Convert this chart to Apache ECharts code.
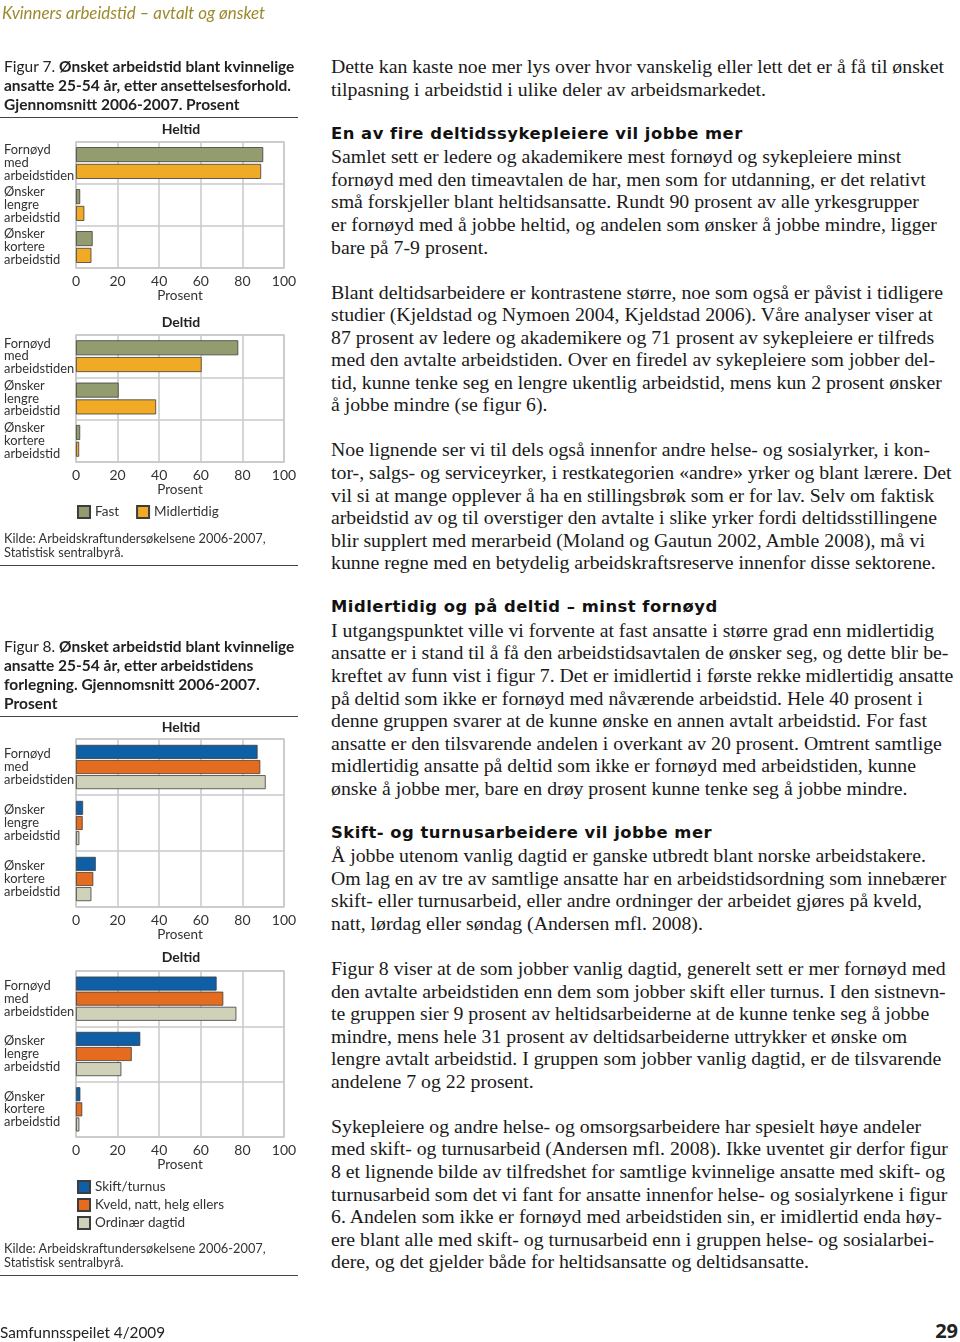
<!DOCTYPE html>
<html><head><meta charset="utf-8">
<script src="https://cdn.jsdelivr.net/npm/echarts/dist/echarts.min.js"></script>
<style>
html,body{margin:0;padding:0;background:#fff;}
#page{position:relative;width:960px;height:1342px;overflow:hidden;background:#fff;}
#chart{position:absolute;left:0;top:0;width:310px;height:1342px;}
.abs{position:absolute;white-space:nowrap;}
#body{position:absolute;left:331px;top:55.2px;font-family:'Liberation Serif',serif;font-size:19.8px;color:#1a1a1a;line-height:22.55px;}
#body div{height:22.55px;white-space:nowrap;}
#body div.h{font-family:'DejaVu Sans',sans-serif;font-weight:700;font-size:16.4px;letter-spacing:0.5px;color:#111;}
.cap{font-family:Lato,sans-serif;font-size:15.5px;font-weight:700;color:#222;line-height:19px;}
.cap span{font-weight:400;}
.src{font-family:Lato,sans-serif;font-size:12.8px;color:#333;line-height:14px;}
.rule{position:absolute;left:0;width:298px;height:0;border-top:1.5px solid #444;}
</style></head>
<body>
<div id="page">
  <div id="chart"></div>
  <div class="abs" style="left:2px;top:2px;font-family:Lato,sans-serif;font-style:italic;font-size:16.9px;line-height:22px;color:#9c8a2e;">Kvinners arbeidstid – avtalt og ønsket</div>

  <div class="abs cap" style="left:4px;top:56.5px;">
    <div><span>Figur 7. </span>Ønsket arbeidstid blant kvinnelige</div>
    <div>ansatte 25-54 år, etter ansettelsesforhold.</div>
    <div>Gjennomsnitt 2006-2007. Prosent</div>
  </div>
  <div class="rule" style="top:117px;"></div>
  <div class="abs src" style="left:4px;top:531px;">
    <div>Kilde: Arbeidskraftundersøkelsene 2006-2007,</div>
    <div>Statistisk sentralbyrå.</div>
  </div>
  <div class="rule" style="top:565px;"></div>

  <div class="abs cap" style="left:4px;top:636.5px;">
    <div><span>Figur 8. </span>Ønsket arbeidstid blant kvinnelige</div>
    <div>ansatte 25-54 år, etter arbeidstidens</div>
    <div>forlegning. Gjennomsnitt 2006-2007.</div>
    <div>Prosent</div>
  </div>
  <div class="rule" style="top:716px;"></div>
  <div class="abs src" style="left:4px;top:1241px;">
    <div>Kilde: Arbeidskraftundersøkelsene 2006-2007,</div>
    <div>Statistisk sentralbyrå.</div>
  </div>
  <div class="rule" style="top:1275px;"></div>

  <div id="body"></div>

  <div class="abs" style="left:0px;top:1321px;font-family:Lato,sans-serif;font-size:15.3px;line-height:22px;color:#222;">Samfunnsspeilet 4/2009</div>
  <div class="abs" style="right:2px;top:1318px;font-family:'Open Sans',sans-serif;font-weight:700;font-size:20px;line-height:26px;color:#222;">29</div>
</div>
<script>
// ---- chart data ----
const categories = ['Fornøyd\nmed\narbeidstiden', 'Ønsker\nlengre\narbeidstid', 'Ønsker\nkortere\narbeidstid'];
const xTicks = [0, 20, 40, 60, 80, 100];
const fig7Names = ['Fast', 'Midlertidig'];
const fig7HeltidFast = [90, 2, 8];
const fig7HeltidMidlertidig = [89, 4, 7.4];
const fig7DeltidFast = [78, 20.5, 2];
const fig7DeltidMidlertidig = [60.4, 38.5, 1.5];
const fig8Names = ['Skift/turnus', 'Kveld, natt, helg ellers', 'Ordinær dagtid'];
const fig8HeltidSkift = [87.3, 3.4, 9.5];
const fig8HeltidKveld = [88.6, 3.2, 8.3];
const fig8HeltidOrdinaer = [91.2, 1.6, 7.4];
const fig8DeltidSkift = [67.6, 30.9, 2.1];
const fig8DeltidKveld = [70.8, 26.8, 3.0];
const fig8DeltidOrdinaer = [77.1, 21.8, 1.6];

// ---- body text ----
const bodyLines = [
'Dette kan kaste noe mer lys over hvor vanskelig eller lett det er å få til ønsket',
'tilpasning i arbeidstid i ulike deler av arbeidsmarkedet.',
'',
'#En av fire deltidssykepleiere vil jobbe mer',
'Samlet sett er ledere og akademikere mest fornøyd og sykepleiere minst',
'fornøyd med den timeavtalen de har, men som for utdanning, er det relativt',
'små forskjeller blant heltidsansatte. Rundt 90 prosent av alle yrkesgrupper',
'er fornøyd med å jobbe heltid, og andelen som ønsker å jobbe mindre, ligger',
'bare på 7-9 prosent.',
'',
'Blant deltidsarbeidere er kontrastene større, noe som også er påvist i tidligere',
'studier (Kjeldstad og Nymoen 2004, Kjeldstad 2006). Våre analyser viser at',
'87 prosent av ledere og akademikere og 71 prosent av sykepleiere er tilfreds',
'med den avtalte arbeidstiden. Over en firedel av sykepleiere som jobber del-',
'tid, kunne tenke seg en lengre ukentlig arbeidstid, mens kun 2 prosent ønsker',
'å jobbe mindre (se figur 6).',
'',
'Noe lignende ser vi til dels også innenfor andre helse- og sosialyrker, i kon-',
'tor-, salgs- og serviceyrker, i restkategorien «andre» yrker og blant lærere. Det',
'vil si at mange opplever å ha en stillingsbrøk som er for lav. Selv om faktisk',
'arbeidstid av og til overstiger den avtalte i slike yrker fordi deltidsstillingene',
'blir supplert med merarbeid (Moland og Gautun 2002, Amble 2008), må vi',
'kunne regne med en betydelig arbeidskraftsreserve innenfor disse sektorene.',
'',
'#Midlertidig og på deltid – minst fornøyd',
'I utgangspunktet ville vi forvente at fast ansatte i større grad enn midlertidig',
'ansatte er i stand til å få den arbeidstidsavtalen de ønsker seg, og dette blir be-',
'kreftet av funn vist i figur 7. Det er imidlertid i første rekke midlertidig ansatte',
'på deltid som ikke er fornøyd med nåværende arbeidstid. Hele 40 prosent i',
'denne gruppen svarer at de kunne ønske en annen avtalt arbeidstid. For fast',
'ansatte er den tilsvarende andelen i overkant av 20 prosent. Omtrent samtlige',
'midlertidig ansatte på deltid som ikke er fornøyd med arbeidstiden, kunne',
'ønske å jobbe mer, bare en drøy prosent kunne tenke seg å jobbe mindre.',
'',
'#Skift- og turnusarbeidere vil jobbe mer',
'Å jobbe utenom vanlig dagtid er ganske utbredt blant norske arbeidstakere.',
'Om lag en av tre av samtlige ansatte har en arbeidstidsordning som innebærer',
'skift- eller turnusarbeid, eller andre ordninger der arbeidet gjøres på kveld,',
'natt, lørdag eller søndag (Andersen mfl. 2008).',
'',
'Figur 8 viser at de som jobber vanlig dagtid, generelt sett er mer fornøyd med',
'den avtalte arbeidstiden enn dem som jobber skift eller turnus. I den sistnevn-',
'te gruppen sier 9 prosent av heltidsarbeiderne at de kunne tenke seg å jobbe',
'mindre, mens hele 31 prosent av deltidsarbeiderne uttrykker et ønske om',
'lengre avtalt arbeidstid. I gruppen som jobber vanlig dagtid, er de tilsvarende',
'andelene 7 og 22 prosent.',
'',
'Sykepleiere og andre helse- og omsorgsarbeidere har spesielt høye andeler',
'med skift- og turnusarbeid (Andersen mfl. 2008). Ikke uventet gir derfor figur',
'8 et lignende bilde av tilfredshet for samtlige kvinnelige ansatte med skift- og',
'turnusarbeid som det vi fant for ansatte innenfor helse- og sosialyrkene i figur',
'6. Andelen som ikke er fornøyd med arbeidstiden sin, er imidlertid enda høy-',
'ere blant alle med skift- og turnusarbeid enn i gruppen helse- og sosialarbei-',
'dere, og det gjelder både for heltidsansatte og deltidsansatte.'
];
const bodyEl = document.getElementById('body');
bodyLines.forEach(function (t) {
  const d = document.createElement('div');
  if (t.charAt(0) === '#') { d.className = 'h'; t = t.slice(1); }
  const s = document.createElement('span');
  s.textContent = t === '' ? '\u00a0' : t;
  d.appendChild(s);
  bodyEl.appendChild(d);
});
// keep long lines inside the column
Array.prototype.forEach.call(bodyEl.querySelectorAll('span'), function (s) {
  const w = s.getBoundingClientRect().width;
  const max = 627;
  if (w > max) {
    const n = s.textContent.length;
    s.style.letterSpacing = (-(w - max) / n) + 'px';
  }
});

// ---- chart ----
const font = 'Lato, sans-serif';
const gridLine = '#c8c8c8';
const txt = '#333';
const grids = [
  {left: 76, top: 142, width: 208, height: 126},
  {left: 76, top: 335, width: 208, height: 127},
  {left: 76, top: 739, width: 208, height: 168},
  {left: 76, top: 971, width: 208, height: 166}
].map(function (g) {
  return Object.assign({show: true, borderColor: gridLine, borderWidth: 1.5, backgroundColor: 'transparent', containLabel: false}, g);
});
const xAxes = grids.map(function (g, i) {
  return {
    type: 'value', gridIndex: i, min: xTicks[0], max: xTicks[xTicks.length - 1], interval: xTicks[1] - xTicks[0],
    axisLine: {show: false}, axisTick: {show: false},
    splitLine: {show: true, lineStyle: {color: gridLine, width: 1.5}},
    axisLabel: {fontFamily: font, fontSize: 14, color: txt, margin: 6},
    name: 'Prosent', nameLocation: 'middle', nameGap: 19,
    nameTextStyle: {fontFamily: font, fontSize: 13.5, color: txt}
  };
});
const yAxes = grids.map(function (g, i) {
  return {
    type: 'category', gridIndex: i, data: categories, inverse: true,
    axisLine: {show: false}, axisTick: {show: false},
    splitLine: {show: true, lineStyle: {color: gridLine, width: 1.5}},
    axisLabel: {align: 'left', margin: 72, fontFamily: font, fontSize: 12.9, lineHeight: 12.7, color: txt}
  };
});
const col7 = ['#929c6f', '#f0aa26'];
const col8 = ['#0e5fa6', '#e56c1f', '#cfd2b9'];
const border = '#3d3d3d';
function bar(name, data, idx, color, w, gap) {
  return {
    type: 'bar', name: name, data: data, xAxisIndex: idx, yAxisIndex: idx,
    barWidth: w, barGap: gap,
    itemStyle: {color: color, borderColor: border, borderWidth: 0.8},
    emphasis: {disabled: true}
  };
}
const series = [
  bar(fig7Names[0], fig7HeltidFast, 0, col7[0], 15, '12%'),
  bar(fig7Names[1], fig7HeltidMidlertidig, 0, col7[1], 15, '12%'),
  bar(fig7Names[0], fig7DeltidFast, 1, col7[0], 15, '12%'),
  bar(fig7Names[1], fig7DeltidMidlertidig, 1, col7[1], 15, '12%'),
  bar(fig8Names[0], fig8HeltidSkift, 2, col8[0], 14, '8%'),
  bar(fig8Names[1], fig8HeltidKveld, 2, col8[1], 14, '8%'),
  bar(fig8Names[2], fig8HeltidOrdinaer, 2, col8[2], 14, '8%'),
  bar(fig8Names[0], fig8DeltidSkift, 3, col8[0], 14, '8%'),
  bar(fig8Names[1], fig8DeltidKveld, 3, col8[1], 14, '8%'),
  bar(fig8Names[2], fig8DeltidOrdinaer, 3, col8[2], 14, '8%')
];
function ttl(text, top) {
  return {text: text, left: 181, top: top, textAlign: 'center', padding: 0,
    textStyle: {fontFamily: font, fontWeight: 'bold', fontSize: 14, color: '#222'}};
}
const legendText = {fontFamily: font, fontSize: 13.5, color: txt, lineHeight: 12};
const chart = echarts.init(document.getElementById('chart'), null, {renderer: 'canvas'});
chart.setOption({
  animation: false,
  title: [ttl('Heltid', 122), ttl('Deltid', 315), ttl('Heltid', 720), ttl('Deltid', 950)],
  legend: [
    {data: fig7Names, left: 77, top: 505, orient: 'horizontal', itemWidth: 12, itemHeight: 12, itemGap: 17,
      icon: 'rect', selectedMode: false, padding: 0, textStyle: legendText},
    {data: fig8Names, left: 77, top: 1180, orient: 'vertical', itemWidth: 12, itemHeight: 12, itemGap: 4,
      icon: 'rect', selectedMode: false, padding: 0, textStyle: legendText}
  ],
  grid: grids,
  xAxis: xAxes,
  yAxis: yAxes,
  series: series
});
</script>
</body></html>
